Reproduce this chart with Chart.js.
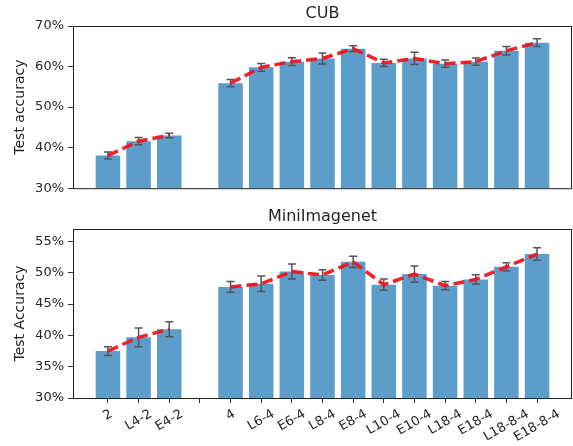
<!DOCTYPE html>
<html>
<head>
<meta charset="utf-8">
<script src="https://cdn.jsdelivr.net/npm/chart.js@4.4.0/dist/chart.umd.min.js"></script>
<style>
  html, body { margin: 0; padding: 0; background: #fff; }
  #wrap { position: relative; width: 573px; height: 446px; }
  .box { position: absolute; left: 0; width: 573px; }
</style>
</head>
<body>
<div id="wrap">
  <div class="box" style="top:0;height:200px"><canvas id="cub"></canvas></div>
  <div class="box" style="top:200px;height:246px"><canvas id="mini"></canvas></div>
</div>
<script>
// categories (index 3 is the empty slot between the two groups)
const labels = ['2', 'L4-2', 'E4-2', '', '4', 'L6-4', 'E6-4', 'L8-4', 'E8-4',
  'L10-4', 'E10-4', 'L18-4', 'E18-4', 'L18-8-4', 'E18-8-4']

// CUB test accuracy (%) and error half-widths
const cubMean = [38.05, 41.6, 43.0, null, 55.9, 59.8, 61.2, 62.0, 64.4,
  60.9, 62.0, 60.7, 61.2, 63.9, 65.9]
const cubErr = [0.85, 0.9, 0.55, null, 0.9, 0.95, 0.95, 1.35, 0.7,
  0.9, 1.5, 0.9, 0.9, 1.05, 0.95]

// MiniImagenet test accuracy (%) and error half-widths
const miniMean = [37.5, 39.7, 41.0, null, 47.75, 48.25, 50.2, 49.65, 51.75,
  48.1, 49.8, 47.95, 48.95, 50.95, 53.0]
const miniErr = [0.7, 1.5, 1.2, null, 0.85, 1.25, 1.2, 0.85, 0.9,
  0.9, 1.3, 0.65, 0.75, 0.65, 1.0]

const cubTicks = [30, 40, 50, 60, 70]
const miniTicks = [30, 35, 40, 45, 50, 55]

const FONT = 'DejaVu Sans'
const TEXT = '#262626'
const BAR = 'rgba(31,119,180,0.72)'
const RED = 'rgba(240,22,32,0.95)'

// error bars drawn right after the bars, under the dashed line
const errorBars = {
  id: 'errorBars',
  afterDatasetDraw(chart, args, opts) {
    if (args.index !== 0) return
    let { ctx, scales: { x, y } } = chart
    ctx.save()
    ctx.strokeStyle = '#555'
    ctx.lineWidth = 1.5
    opts.mean.forEach((m, i) => {
      if (m === null) return
      let px = x.getPixelForValue(i)
      let top = y.getPixelForValue(m + opts.err[i])
      let bot = y.getPixelForValue(m - opts.err[i])
      ctx.beginPath()
      ctx.moveTo(px, top); ctx.lineTo(px, bot)
      ctx.moveTo(px - 4, top); ctx.lineTo(px + 4, top)
      ctx.moveTo(px - 4, bot); ctx.lineTo(px + 4, bot)
      ctx.stroke()
    })
    ctx.restore()
  }
}

// frame + title
const frame = {
  id: 'frame',
  afterDraw(chart, args, opts) {
    let { ctx, chartArea: a } = chart
    ctx.save()
    ctx.strokeStyle = '#222'
    ctx.lineWidth = 1
    ctx.strokeRect(a.left + 0.5, a.top + 0.5, a.right - a.left - 1, a.bottom - a.top)
    ctx.fillStyle = TEXT
    ctx.font = '16px "' + FONT + '"'
    ctx.textAlign = 'center'
    ctx.textBaseline = 'alphabetic'
    ctx.fillText(opts.title, (a.left + a.right) / 2, a.top - 8)
    ctx.restore()
  }
}

// rotated, centred x labels (matplotlib style)
const xLabels = {
  id: 'xLabels',
  afterDraw(chart, args, opts) {
    if (!opts.show) return
    let { ctx, chartArea: a, scales: { x } } = chart
    let ang = 30 * Math.PI / 180
    ctx.save()
    ctx.fillStyle = TEXT
    ctx.font = '13px "' + FONT + '"'
    ctx.textAlign = 'center'
    ctx.textBaseline = 'middle'
    labels.forEach((l, i) => {
      if (!l) return
      let w = ctx.measureText(l).width
      let h = 13 * 1.1
      let H = w * Math.sin(ang) + h * Math.cos(ang)
      ctx.save()
      ctx.translate(x.getPixelForValue(i), a.bottom + 5 + 4 + H / 2)
      ctx.rotate(-ang)
      ctx.fillText(l, 0, 0)
      ctx.restore()
    })
    ctx.restore()
  }
}

function makeChart(id, title, yTitle, mean, err, ticks, yMax, topPad, xHeight, showX) {
  return new Chart(document.getElementById(id), {
    type: 'bar',
    data: {
      datasets: [
        {
          type: 'bar',
          data: mean.map((v, i) => ({ x: i, y: v })).filter((p) => p.y !== null),
          backgroundColor: BAR,
          barPercentage: 0.8,
          categoryPercentage: 1.0,
          order: 2
        },
        {
          type: 'line',
          data: mean.map((v, i) => ({ x: i, y: v })),
          borderColor: RED,
          borderWidth: 3.5,
          borderDash: [11, 5],
          pointRadius: 0,
          spanGaps: false,
          fill: false,
          order: 1
        }
      ]
    },
    options: {
      responsive: true,
      maintainAspectRatio: false,
      animation: false,
      layout: { padding: { top: topPad, right: 1, left: 0, bottom: 0 } },
      plugins: {
        legend: { display: false },
        tooltip: { enabled: false },
        errorBars: { mean, err },
        frame: { title },
        xLabels: { show: showX }
      },
      scales: {
        x: {
          type: 'linear',
          offset: false,
          min: -1.14,
          max: labels.length - 1 + 1.14,
          afterBuildTicks: (s) => { s.ticks = labels.map((l, i) => ({ value: i })) },
          afterFit: (s) => { s.height = xHeight },
          ticks: { display: false },
          border: { display: false },
          grid: {
            display: showX,
            offset: false,
            drawOnChartArea: false,
            drawTicks: true,
            tickLength: 5,
            color: '#333',
            lineWidth: 1
          }
        },
        y: {
          min: 30,
          max: yMax,
          afterBuildTicks: (s) => { s.ticks = ticks.map((v) => ({ value: v })) },
          afterFit: (s) => { s.width = 73 },
          border: { display: false },
          grid: {
            drawOnChartArea: false,
            drawTicks: true,
            tickLength: 5,
            color: '#333',
            lineWidth: 1
          },
          ticks: {
            padding: 4,
            color: TEXT,
            font: { family: FONT, size: 13 },
            callback: (v) => v + '%'
          },
          title: {
            display: true,
            text: yTitle,
            color: TEXT,
            font: { family: FONT, size: 14, lineHeight: 1.2 },
            padding: { top: 12, bottom: 0 }
          }
        }
      }
    },
    plugins: [errorBars, frame, xLabels]
  })
}

makeChart('cub', 'CUB', 'Test accuracy', cubMean, cubErr, cubTicks, 70, 26, 5, false)
makeChart('mini', 'MiniImagenet', 'Test Accuracy', miniMean, miniErr, miniTicks, 57, 29, 48, true)
</script>
</body>
</html>
